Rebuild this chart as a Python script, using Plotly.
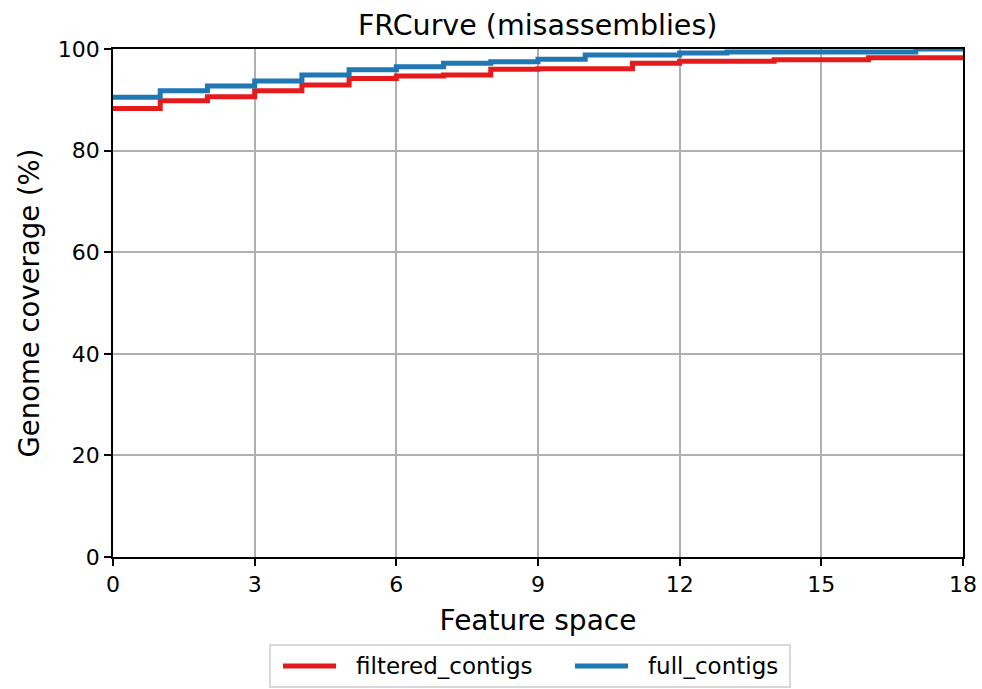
import plotly.graph_objects as go

feature_space = [0, 1, 2, 3, 4, 5, 6, 7, 8, 9, 10, 11, 12, 13, 14, 15, 16, 17, 18]
filtered_contigs = [88.3, 89.8, 90.6, 91.8, 92.9, 94.2, 94.7, 94.9, 96.0, 96.1,
                    96.1, 97.2, 97.6, 97.6, 97.9, 97.9, 98.3, 98.3, 98.3]
full_contigs = [90.5, 91.8, 92.7, 93.7, 94.9, 95.9, 96.5, 97.2, 97.5, 98.0,
                98.8, 98.8, 99.2, 99.4, 99.4, 99.4, 99.4, 100.0, 100.0]
x_ticks = [0, 3, 6, 9, 12, 15, 18]
y_ticks = [0, 20, 40, 60, 80, 100]
series_names = ["filtered_contigs", "full_contigs"]
series_colors = ["#e41a1c", "#1f77b4"]

FONT = "DejaVu Sans"

fig = go.Figure()
for name, ys, col in zip(series_names, [filtered_contigs, full_contigs], series_colors):
    fig.add_trace(go.Scatter(x=feature_space, y=ys, mode="lines",
                             line=dict(color=col, width=5, shape="hv"),
                             name=name, showlegend=False))

axis_common = dict(showline=True, linecolor="black", linewidth=1.5, mirror=True,
                   ticks="outside", ticklen=7, tickwidth=1.5, tickcolor="black",
                   showgrid=True, gridcolor="#b0b0b0", gridwidth=1.5,
                   zeroline=False, automargin=False,
                   tickfont=dict(family=FONT, size=22, color="black"))

# custom legend (matplotlib-style) in paper coordinates
legend_box = dict(x0=0.1847, x1=0.7965, y0=-0.2559, y1=-0.1732)
legend_y = -0.2146
legend_items = [(0.2000, 0.2624, 0.2835), (0.5435, 0.6059, 0.6271)]

shapes = [dict(type="rect", xref="paper", yref="paper", **legend_box,
               line=dict(color="#cccccc", width=1.5), fillcolor="white", layer="above")]
annotations = []
for (lx0, lx1, tx), name, col in zip(legend_items, series_names, series_colors):
    shapes.append(dict(type="line", xref="paper", yref="paper", x0=lx0, x1=lx1,
                       y0=legend_y, y1=legend_y, line=dict(color=col, width=5), layer="above"))
    annotations.append(dict(text=name, xref="paper", yref="paper", x=tx, y=legend_y,
                            xanchor="left", yanchor="middle", showarrow=False,
                            font=dict(family=FONT, size=23, color="black")))

fig.update_layout(
    width=982, height=689,
    margin=dict(l=113, r=19, t=49, b=132, autoexpand=False),
    paper_bgcolor="white", plot_bgcolor="white",
    font=dict(family=FONT, color="black"),
    title=dict(text="FRCurve (misassemblies)", x=0.5475, xanchor="center",
               y=1 - 25 / 689, yanchor="middle", font=dict(family=FONT, size=28.5)),
    xaxis=dict(range=[0, 18], tickvals=x_ticks, ticktext=[str(v) for v in x_ticks],
               title=dict(text="Feature space", font=dict(family=FONT, size=28), standoff=14),
               **axis_common),
    yaxis=dict(range=[0, 100], tickvals=y_ticks, ticktext=[str(v) for v in y_ticks],
               title=dict(text="Genome coverage (%)", font=dict(family=FONT, size=27.5), standoff=10),
               **axis_common),
    shapes=shapes,
    annotations=annotations,
    showlegend=False,
)

fig.write_html("out.html")
